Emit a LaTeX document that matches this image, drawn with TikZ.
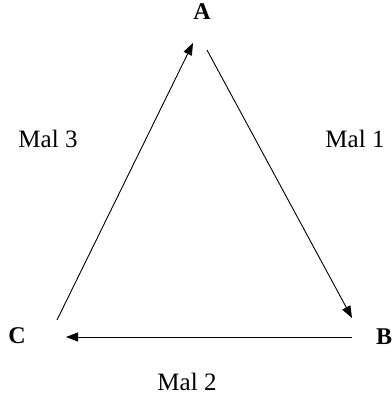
\documentclass[tikz,border=0pt]{standalone}
\usepackage{fontspec}
\setmainfont{Liberation Serif}
\usetikzlibrary{arrows.meta}
\begin{document}
\begin{tikzpicture}[x=1pt,y=1pt,
  vert/.style={font=\fontsize{24}{26}\selectfont\bfseries, inner sep=0pt},
  lab/.style={font=\fontsize{25}{27}\selectfont, inner sep=0pt},
  arr/.style={line width=0.9pt, -{Triangle[length=12pt,width=9pt]}}]
\useasboundingbox (0,0) rectangle (391,398);
\node[vert] (A) at (202,386) {A};
\node[vert] (B) at (384,61) {B};
\node[vert] (C) at (17,62) {C};
\coordinate (ab1) at (207,348);
\coordinate (ab2) at (352,80);
\coordinate (bc1) at (352,61);
\coordinate (bc2) at (66,61);
\coordinate (ca1) at (57,78);
\coordinate (ca2) at (193,355);
\draw[arr] (ab1) -- (ab2);
\draw[arr] (bc1) -- (bc2);
\draw[arr] (ca1) -- (ca2);
\node[lab] (m3) at (48,259) {Mal 3};
\node[lab] (m1) at (355,259) {Mal 1};
\node[lab] (m2) at (187,16) {Mal 2};
\end{tikzpicture}
\end{document}
